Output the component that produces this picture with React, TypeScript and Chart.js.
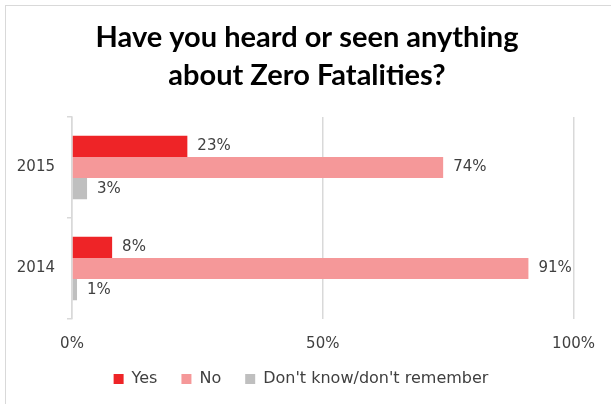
import React, { useEffect, useRef } from "react";
import { Chart, registerables } from "chart.js";

Chart.register(...registerables);

const categories = ["2015", "2014"];
const yesValues = [23, 8];
const noValues = [74, 91];
const dontKnowValues = [3, 1];
const seriesNames = ["Yes", "No", "Don't know/don't remember"];
const titleLines = ["Have you heard or seen anything", "about Zero Fatalities?"];

const TEXT = "#404040";
const GRID = "#D9D9D9";
const AXIS_FONT = "'DejaVu Sans', sans-serif";

const valueLabels = {
  id: "valueLabels",
  afterDatasetsDraw(chart: any) {
    const ctx = chart.ctx;
    ctx.save();
    ctx.font = `15px ${AXIS_FONT}`;
    ctx.fillStyle = TEXT;
    ctx.textAlign = "left";
    ctx.textBaseline = "middle";
    chart.data.datasets.forEach((ds: any, i: number) => {
      const meta = chart.getDatasetMeta(i);
      meta.data.forEach((el: any, j: number) => {
        ctx.fillText(`${ds.data[j]}%`, el.x + 10, el.y);
      });
    });
    ctx.restore();
  },
};

const shiftBlocks = {
  id: "shiftBlocks",
  afterLayout(chart: any) {
    const t = chart.titleBlock;
    if (t) {
      t.left += 16;
      t.right += 16;
    }
    const l = chart.legend;
    if (l) {
      l.left += 10;
      l.right += 10;
      l.top -= 6;
      l.bottom -= 6;
    }
  },
};

export default function App() {
  const ref = useRef<HTMLCanvasElement>(null);
  useEffect(() => {
    if (!ref.current) return;
    const chart = new Chart(ref.current, {
      type: "bar",
      data: {
        labels: categories,
        datasets: [
          { label: seriesNames[0], data: yesValues, backgroundColor: "#EE2427" },
          { label: seriesNames[1], data: noValues, backgroundColor: "#F59899" },
          { label: seriesNames[2], data: dontKnowValues, backgroundColor: "#BFBFBF" },
        ],
      },
      options: {
        indexAxis: "y",
        responsive: false,
        animation: false,
        maintainAspectRatio: false,
        datasets: { bar: { categoryPercentage: 0.63, barPercentage: 1, borderWidth: 0 } },
        layout: { padding: { left: 6, right: 35, top: 0, bottom: 1 } },
        scales: {
          x: {
            min: 0,
            max: 100,
            ticks: {
              stepSize: 50,
              padding: 16,
              color: TEXT,
              font: { family: AXIS_FONT, size: 15 },
              callback: (v: any) => `${v}%`,
            },
            grid: { color: GRID, lineWidth: 1.5, drawTicks: false },
            border: { display: false },
            afterFit: (s: any) => { s.height = 34; },
          },
          y: {
            ticks: {
              padding: 12,
              color: TEXT,
              font: { family: AXIS_FONT, size: 15 },
            },
            grid: { color: GRID, lineWidth: 1.5, drawOnChartArea: false, drawTicks: true, tickLength: 5 },
            border: { display: true, color: GRID, width: 1.5 },
            afterFit: (s: any) => { s.width = 66; },
          },
        },
        plugins: {
          title: {
            display: true,
            text: titleLines,
            color: "#000000",
            font: { family: "Lato, 'Open Sans', sans-serif", size: 29, weight: "bold", lineHeight: "38px" },
            padding: { top: 19, bottom: 22 },
          },
          legend: {
            position: "bottom",
            labels: {
              boxWidth: 10,
              boxHeight: 10,
              padding: 24,
              color: TEXT,
              font: { family: AXIS_FONT, size: 16 },
            },
          },
          tooltip: { enabled: false },
        },
      },
      plugins: [valueLabels, shiftBlocks],
    });
    return () => chart.destroy();
  }, []);

  return (
    <div style={{ position: "fixed", left: 0, top: 0, width: 611, height: 404, background: "#fff", overflow: "hidden" }}>
      <div style={{ position: "absolute", left: 5, top: 5, width: 700, height: 500, border: "1.5px solid #D9D9D9", boxSizing: "border-box" }} />
      <canvas ref={ref} width={611} height={404} style={{ position: "absolute", left: 0, top: 0, width: 611, height: 404 }} />
    </div>
  );
}
